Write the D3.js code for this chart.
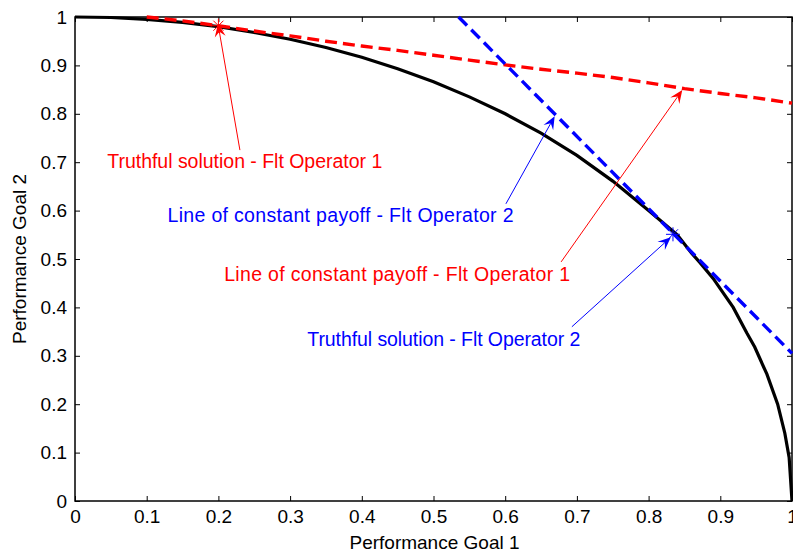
<!DOCTYPE html>
<html>
<head>
<meta charset="utf-8">
<script src="https://cdn.jsdelivr.net/npm/d3@7"></script>
<style>
  body { margin: 0; background: #fff; }
  svg { display: block; font-family: "Liberation Sans", Arial, sans-serif; }
</style>
</head>
<body>
<svg id="chart" width="793" height="556"></svg>
<script>
// Pareto front of the two performance goals
const frontX = [0, 0.05, 0.1, 0.15, 0.2, 0.25, 0.3, 0.35, 0.4, 0.45, 0.5, 0.55, 0.6, 0.65, 0.7, 0.75, 0.8, 0.84, 0.86, 0.872, 0.89, 0.918, 0.937, 0.948, 0.965, 0.98, 0.99, 0.996, 1.0];
const frontY = [1, 0.999, 0.995, 0.989, 0.98, 0.968, 0.954, 0.937, 0.917, 0.893, 0.866, 0.835, 0.8, 0.76, 0.714, 0.661, 0.6, 0.55, 0.512, 0.492, 0.46, 0.4, 0.347, 0.318, 0.262, 0.2, 0.14, 0.09, 0];

// Line of constant payoff, flight operator 1
const payoff1X = [0.1, 0.15, 0.2, 0.25, 0.3, 0.35, 0.4, 0.45, 0.5, 0.55, 0.6, 0.65, 0.7, 0.75, 0.8, 0.85, 0.9, 0.95, 1.0];
const payoff1Y = [1.0, 0.992, 0.982, 0.971, 0.961, 0.95, 0.94, 0.931, 0.921, 0.911, 0.901, 0.892, 0.884, 0.875, 0.864, 0.852, 0.842, 0.833, 0.822];

// Line of constant payoff, flight operator 2
const payoff2X = [0.535, 1.0];
const payoff2Y = [1.0, 0.305];

// Truthful solutions
const truth1 = [0.2, 0.982];
const truth2 = [0.834, 0.551];

const xTicks = [0, 0.1, 0.2, 0.3, 0.4, 0.5, 0.6, 0.7, 0.8, 0.9, 1];
const yTicks = [0, 0.1, 0.2, 0.3, 0.4, 0.5, 0.6, 0.7, 0.8, 0.9, 1];

// Annotations: text, colour, text anchor point, arrow tail and arrow head (data units)
const notes = [
  { text: "Truthful solution - Flt Operator 1", color: "#ff0000", at: [0.045, 0.687], width: 275, from: [0.230, 0.725], to: [0.1994, 0.986] },
  { text: "Line of constant payoff - Flt Operator 2", color: "#0000ff", at: [0.129, 0.576], width: 346, from: [0.601, 0.614], to: [0.669, 0.795] },
  { text: "Line of constant payoff - Flt Operator 1", color: "#ff0000", at: [0.208, 0.454], width: 346, from: [0.678, 0.494], to: [0.847, 0.849] },
  { text: "Truthful solution - Flt Operator 2", color: "#0000ff", at: [0.324, 0.32], width: 273, from: [0.693, 0.36], to: [0.831, 0.545] }
];

const svg = d3.select("#chart");
const mLeft = 75, mRight = 792, mTop = 17, mBottom = 501;
const fontSize = 19;

const x = d3.scaleLinear().domain([0, 1]).range([mLeft, mRight]);
const y = d3.scaleLinear().domain([0, 1]).range([mBottom, mTop]);

// axes box with inward ticks on all sides
const fmt = d => String(d);
const tickStyle = g => {
  g.select(".domain").remove();
  g.selectAll(".tick line").attr("stroke", "#000").attr("stroke-width", 1);
  g.selectAll(".tick text").attr("font-size", fontSize).attr("fill", "#000").attr("font-family", "Liberation Sans, Arial, sans-serif");
};

svg.append("g").attr("transform", `translate(0,${mBottom})`)
  .call(d3.axisBottom(x).tickValues(xTicks).tickFormat(fmt).tickSizeInner(-5).tickSizeOuter(0).tickPadding(9))
  .call(tickStyle);
svg.append("g").attr("transform", `translate(${mLeft},0)`)
  .call(d3.axisLeft(y).tickValues(yTicks).tickFormat(fmt).tickSizeInner(-5).tickSizeOuter(0).tickPadding(8))
  .call(tickStyle);
svg.append("g").attr("transform", `translate(0,${mTop})`)
  .call(d3.axisTop(x).tickValues(xTicks).tickFormat("").tickSizeInner(-5).tickSizeOuter(0))
  .call(tickStyle);
svg.append("g").attr("transform", `translate(${mRight},0)`)
  .call(d3.axisRight(y).tickValues(yTicks).tickFormat("").tickSizeInner(-5).tickSizeOuter(0))
  .call(tickStyle);

svg.append("rect")
  .attr("x", mLeft).attr("y", mTop)
  .attr("width", mRight - mLeft).attr("height", mBottom - mTop)
  .attr("fill", "none").attr("stroke", "#000").attr("stroke-width", 1.5);

const line = d3.line().x(d => x(d[0])).y(d => y(d[1]));
const plot = svg.append("g");

plot.append("path")
  .datum(frontX.map((v, i) => [v, frontY[i]]))
  .attr("d", line).attr("fill", "none")
  .attr("stroke", "#000").attr("stroke-width", 3.2);

plot.append("path")
  .datum(payoff1X.map((v, i) => [v, payoff1Y[i]]))
  .attr("d", line).attr("fill", "none")
  .attr("stroke", "#ff0000").attr("stroke-width", 3.4)
  .attr("stroke-dasharray", "12,6");

plot.append("path")
  .datum(payoff2X.map((v, i) => [v, payoff2Y[i]]))
  .attr("d", line).attr("fill", "none")
  .attr("stroke", "#0000ff").attr("stroke-width", 3.4)
  .attr("stroke-dasharray", "12,6");

// star markers
function star(p, color) {
  const cx = x(p[0]), cy = y(p[1]), r = 7, d = r * 0.72;
  const g = plot.append("g").attr("stroke", color).attr("stroke-width", 1);
  [[-r, 0, r, 0], [0, -r, 0, r], [-d, -d, d, d], [-d, d, d, -d]].forEach(s => {
    g.append("line").attr("x1", cx + s[0]).attr("y1", cy + s[1]).attr("x2", cx + s[2]).attr("y2", cy + s[3]);
  });
}
star(truth1, "#ff0000");
star(truth2, "#0000ff");

// annotation arrows and labels
const ann = svg.append("g");
notes.forEach(n => {
  const x1 = x(n.from[0]), y1 = y(n.from[1]), x2 = x(n.to[0]), y2 = y(n.to[1]);
  const ang = Math.atan2(y2 - y1, x2 - x1);
  const len = 13, half = 5.5, notch = 8;
  const ux = Math.cos(ang), uy = Math.sin(ang), px = -uy, py = ux;
  const bx = x2 - ux * len, by = y2 - uy * len;
  ann.append("line")
    .attr("x1", x1).attr("y1", y1)
    .attr("x2", x2 - ux * notch).attr("y2", y2 - uy * notch)
    .attr("stroke", n.color).attr("stroke-width", 1);
  ann.append("polygon")
    .attr("points", [
      [x2, y2],
      [bx + px * half, by + py * half],
      [x2 - ux * notch, y2 - uy * notch],
      [bx - px * half, by - py * half]
    ].map(p => p.join(",")).join(" "))
    .attr("fill", n.color);
  ann.append("text")
    .attr("x", x(n.at[0])).attr("y", y(n.at[1]))
    .attr("fill", n.color).attr("font-size", 19.5)
    .attr("textLength", n.width).attr("lengthAdjust", "spacing")
    .text(n.text);
});

// axis titles
svg.append("text")
  .attr("x", (mLeft + mRight) / 2 + 1).attr("y", 549)
  .attr("text-anchor", "middle").attr("font-size", fontSize).attr("fill", "#000")
  .text("Performance Goal 1");
svg.append("text")
  .attr("transform", `translate(26,${(mTop + mBottom) / 2}) rotate(-90)`)
  .attr("text-anchor", "middle").attr("font-size", fontSize).attr("fill", "#000")
  .text("Performance Goal 2");
</script>
</body>
</html>
